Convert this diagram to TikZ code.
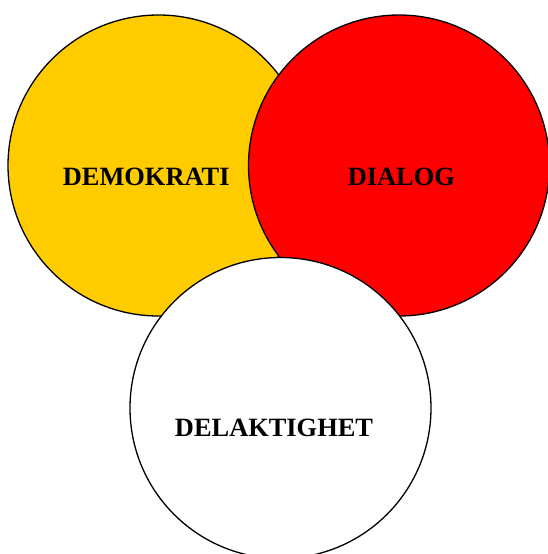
\documentclass[tikz,border=0pt]{standalone}
\usepackage{fontspec}
\setmainfont{Liberation Serif}
\definecolor{demoyellow}{HTML}{FFCC00}
\definecolor{dialred}{HTML}{FF0000}
\tikzset{
  ring/.style={circle, draw=black, line width=1.3pt, minimum size=301pt, inner sep=0pt},
  word/.style={anchor=base, font=\fontsize{26.4}{30}\selectfont\bfseries, text=black}
}
\begin{document}
\begin{tikzpicture}[x=1pt,y=-1pt]
\useasboundingbox (0,0) rectangle (548,554);
\node[ring, fill=demoyellow] (demo) at (158.5,165.5) {};
\node[ring, fill=dialred] (dial) at (399,165.5) {};
\node[ring, fill=white] (del) at (280.5,408) {};
\node[word] (tdemo) at (146.2,185) {DEMOKRATI};
\node[word] (tdial) at (401.3,185) {DIALOG};
\node[word] (tdel) at (274,436) {DELAKTIGHET};
\end{tikzpicture}
\end{document}
